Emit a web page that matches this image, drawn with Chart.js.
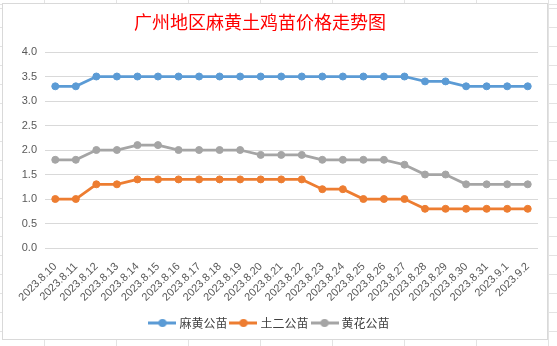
<!DOCTYPE html>
<html>
<head>
<meta charset="utf-8">
<script src="https://cdn.jsdelivr.net/npm/chart.js@4.4.0/dist/chart.umd.min.js"></script>
<style>
  html, body { margin: 0; padding: 0; }
  body {
    width: 557px; height: 346px; overflow: hidden; position: relative;
    background-color: #ffffff;
    background-image:
      repeating-linear-gradient(to right, #e3e3e3 0, #e3e3e3 1px, transparent 1px, transparent 72px),
      repeating-linear-gradient(to bottom, #e3e3e3 0, #e3e3e3 1px, transparent 1px, transparent 19px);
    background-position: 44px 0, 0 8px;
  }
  #box {
    position: absolute; left: 2px; top: 3px; width: 546px; height: 337px;
    box-sizing: border-box; border: 1px solid #d9d9d9; background: #ffffff;
  }
  #c { display: block; }
</style>
</head>
<body>
<div id="box"><canvas id="c" width="544" height="335"></canvas></div>
<script>
const titleText = '广州地区麻黄土鸡苗价格走势图';
const categories = ['2023.8.10','2023.8.11','2023.8.12','2023.8.13','2023.8.14','2023.8.15','2023.8.16','2023.8.17','2023.8.18','2023.8.19','2023.8.20','2023.8.21','2023.8.22','2023.8.23','2023.8.24','2023.8.25','2023.8.26','2023.8.27','2023.8.28','2023.8.29','2023.8.30','2023.8.31','2023.9.1','2023.9.2'];
const seriesNames = ['麻黄公苗', '土二公苗', '黄花公苗'];
const mahuang = [3.3,3.3,3.5,3.5,3.5,3.5,3.5,3.5,3.5,3.5,3.5,3.5,3.5,3.5,3.5,3.5,3.5,3.5,3.4,3.4,3.3,3.3,3.3,3.3];
const tuer    = [1.0,1.0,1.3,1.3,1.4,1.4,1.4,1.4,1.4,1.4,1.4,1.4,1.4,1.2,1.2,1.0,1.0,1.0,0.8,0.8,0.8,0.8,0.8,0.8];
const huanghua= [1.8,1.8,2.0,2.0,2.1,2.1,2.0,2.0,2.0,2.0,1.9,1.9,1.9,1.8,1.8,1.8,1.8,1.7,1.5,1.5,1.3,1.3,1.3,1.3];
const colors = ['#5B9BD5', '#ED7D31', '#A5A5A5'];

function legendIcon(color) {
  const cv = document.createElement('canvas');
  cv.width = 28; cv.height = 10;
  const g = cv.getContext('2d');
  g.strokeStyle = color; g.lineWidth = 3;
  g.beginPath(); g.moveTo(0, 5); g.lineTo(28, 5); g.stroke();
  g.fillStyle = color;
  g.beginPath(); g.arc(14, 5, 4, 0, Math.PI * 2); g.fill();
  return cv;
}

const titlePlugin = {
  id: 'customTitle',
  afterDraw(chart) {
    const ctx = chart.ctx;
    ctx.save();
    ctx.fillStyle = '#FF0000';
    ctx.font = '18px "Noto Sans CJK SC"';
    ctx.textAlign = 'center';
    ctx.textBaseline = 'middle';
    ctx.fillText(titleText, chart.width / 2 - 15, 18);
    ctx.restore();
  }
};

const mkDs = (label, data, color) => ({
  label, data,
  borderColor: color, backgroundColor: color,
  pointBackgroundColor: color, pointBorderColor: color,
  borderWidth: 2.75, pointRadius: 3.5, pointBorderWidth: 1,
  pointHoverRadius: 3.5, tension: 0, fill: false
});

new Chart(document.getElementById('c'), {
  type: 'line',
  data: {
    labels: categories,
    datasets: [
      mkDs(seriesNames[0], mahuang, colors[0]),
      mkDs(seriesNames[1], tuer, colors[1]),
      mkDs(seriesNames[2], huanghua, colors[2])
    ]
  },
  options: {
    responsive: false,
    animation: false,
    devicePixelRatio: 1,
    layout: { padding: { top: 48, left: 0, right: 9, bottom: 0 } },
    plugins: {
      title: { display: false },
      tooltip: { enabled: false },
      legend: {
        position: 'bottom',
        labels: {
          usePointStyle: true,
          pointStyleWidth: 22,
          padding: 5,
          color: '#404040',
          font: { family: '"Noto Sans CJK SC"', size: 12 },
          generateLabels(chart) {
            return chart.data.datasets.map((ds, i) => ({
              text: ds.label,
              fillStyle: ds.borderColor,
              strokeStyle: ds.borderColor,
              lineWidth: 0,
              pointStyle: legendIcon(ds.borderColor),
              datasetIndex: i,
              hidden: false,
              fontColor: '#404040'
            }));
          }
        }
      }
    },
    scales: {
      x: {
        offset: true,
        grid: { display: false },
        border: { display: false },
        ticks: {
          color: '#595959', font: { family: '"Liberation Sans"', size: 11 },
          minRotation: 45, maxRotation: 45, autoSkip: false, padding: 4
        },
        afterFit(s) { s.height = 64; }
      },
      y: {
        min: 0, max: 4,
        grid: { color: '#d9d9d9', drawTicks: false, lineWidth: 1 },
        border: { display: false },
        ticks: {
          stepSize: 0.5, color: '#595959', padding: 8,
          font: { family: '"Liberation Sans"', size: 11 },
          callback: v => Number(v).toFixed(1)
        },
        afterFit(s) { s.width = 42; }
      }
    }
  },
  plugins: [titlePlugin]
});
</script>
</body>
</html>
